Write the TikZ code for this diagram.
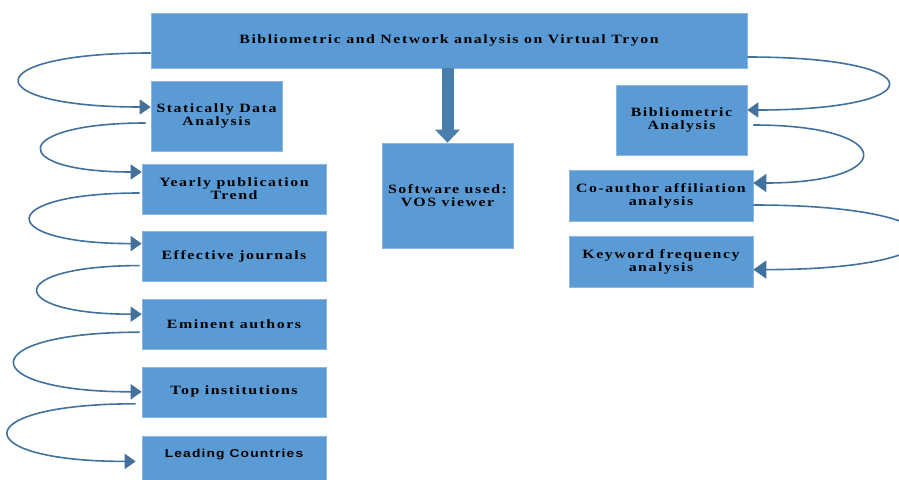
\documentclass[tikz,border=0pt]{standalone}
\usepackage{fontspec}
\usepackage{xcolor}
\usepackage{tikz}
\usetikzlibrary{positioning, arrows.meta}

\newfontfamily\boxfont{Liberation Serif}[FakeStretch=1.25, LetterSpace=12]
\newfontfamily\boxsans{Liberation Sans}[FakeStretch=1.2, LetterSpace=10]
\definecolor{boxblue}{HTML}{5B9BD5}
\definecolor{linkblue}{HTML}{41719C}
\definecolor{edgeblue}{HTML}{8DB6E2}

\begin{document}
\begin{tikzpicture}[
  x=1pt, y=-1pt,
  font=\boxfont\bfseries\fontsize{12.7}{13}\selectfont,
  box/.style={draw=edgeblue, fill=boxblue, line width=0.6pt, align=center,
              inner sep=2pt, minimum width=184, minimum height=50},
  smallbox/.style={box, minimum width=131, minimum height=70},
  arr/.style={-{Triangle[length=11pt, width=15pt]}, line width=1.6pt, draw=linkblue},
  rarr/.style={arr, -{Triangle[length=13pt, width=18pt]}},
  bigarr/.style={-{Triangle[length=13pt, width=24pt]}, line width=12pt,
                 draw=linkblue!70!boxblue}
]
\useasboundingbox (0,0) rectangle (899,479);

% top
\node[box, minimum width=596, minimum height=55] (title) at (449,40.5)
  {Bibliometric and Network analysis on Virtual Tryon};

% left column
\node[smallbox] (stat) at (216.5,116) {Statically Data\\Analysis};
\node[box] (yearly) at (234,189) {Yearly publication\\Trend};
\node[box, below=17pt of yearly] (journals) {Effective journals};
\node[box, below=17pt of journals] (authors) {Eminent authors};
\node[box, below=17pt of authors] (inst) {Top institutions};
\node[box, below=19pt of inst, text depth=17pt,
      font=\boxsans\bfseries\fontsize{11.5}{13}\selectfont] (countries) {Leading Countries};

% middle
\node[smallbox, minimum height=105] (soft) at (447.5,195.5) {Software used:\\VOS viewer};

% right column
\node[smallbox] (biblio) at (681.5,120) {Bibliometric\\Analysis};
\node[box, minimum height=51] (coauth) at (661,195.5) {Co-author affiliation\\analysis};
\node[box, minimum height=51, below=15pt of coauth] (keyword) {Keyword frequency\\analysis};

\draw[bigarr] (title.south -| soft.north) -- (soft.north);

\draw[arr] ([yshift=-12.5pt]title.west) to[out=180, in=180, distance=175] ([yshift=9pt]stat.west);
\draw[arr] ([xshift=-5pt, yshift=-7pt]stat.west) to[out=180, in=180, distance=136] ([yshift=17pt]yearly.west);
\draw[arr] ([xshift=-2pt, yshift=-4pt]yearly.west) to[out=180, in=180, distance=147] ([yshift=13pt]journals.west);
\draw[arr] ([xshift=-2pt, yshift=-9pt]journals.west) to[out=180, in=180, distance=137] ([yshift=10pt]authors.west);
\draw[arr] ([xshift=-2pt, yshift=-8pt]authors.west) to[out=180, in=180, distance=168] (inst.west);
\draw[arr] ([xshift=-6pt, yshift=-12pt]inst.west) to[out=180, in=180, distance=170] ([xshift=-6pt]countries.west);

\draw[arr] ([yshift=-16.5pt]title.east) to[out=0, in=0, distance=188] ([yshift=10pt]biblio.east);
\draw[rarr] ([xshift=6pt, yshift=-5pt]biblio.east) to[out=0, in=0, distance=145] ([yshift=12.5pt]coauth.east);
\draw[rarr] ([yshift=-9.5pt]coauth.east) to[out=0, in=0, distance=222] ([yshift=-7.5pt]keyword.east);
\end{tikzpicture}
\end{document}
